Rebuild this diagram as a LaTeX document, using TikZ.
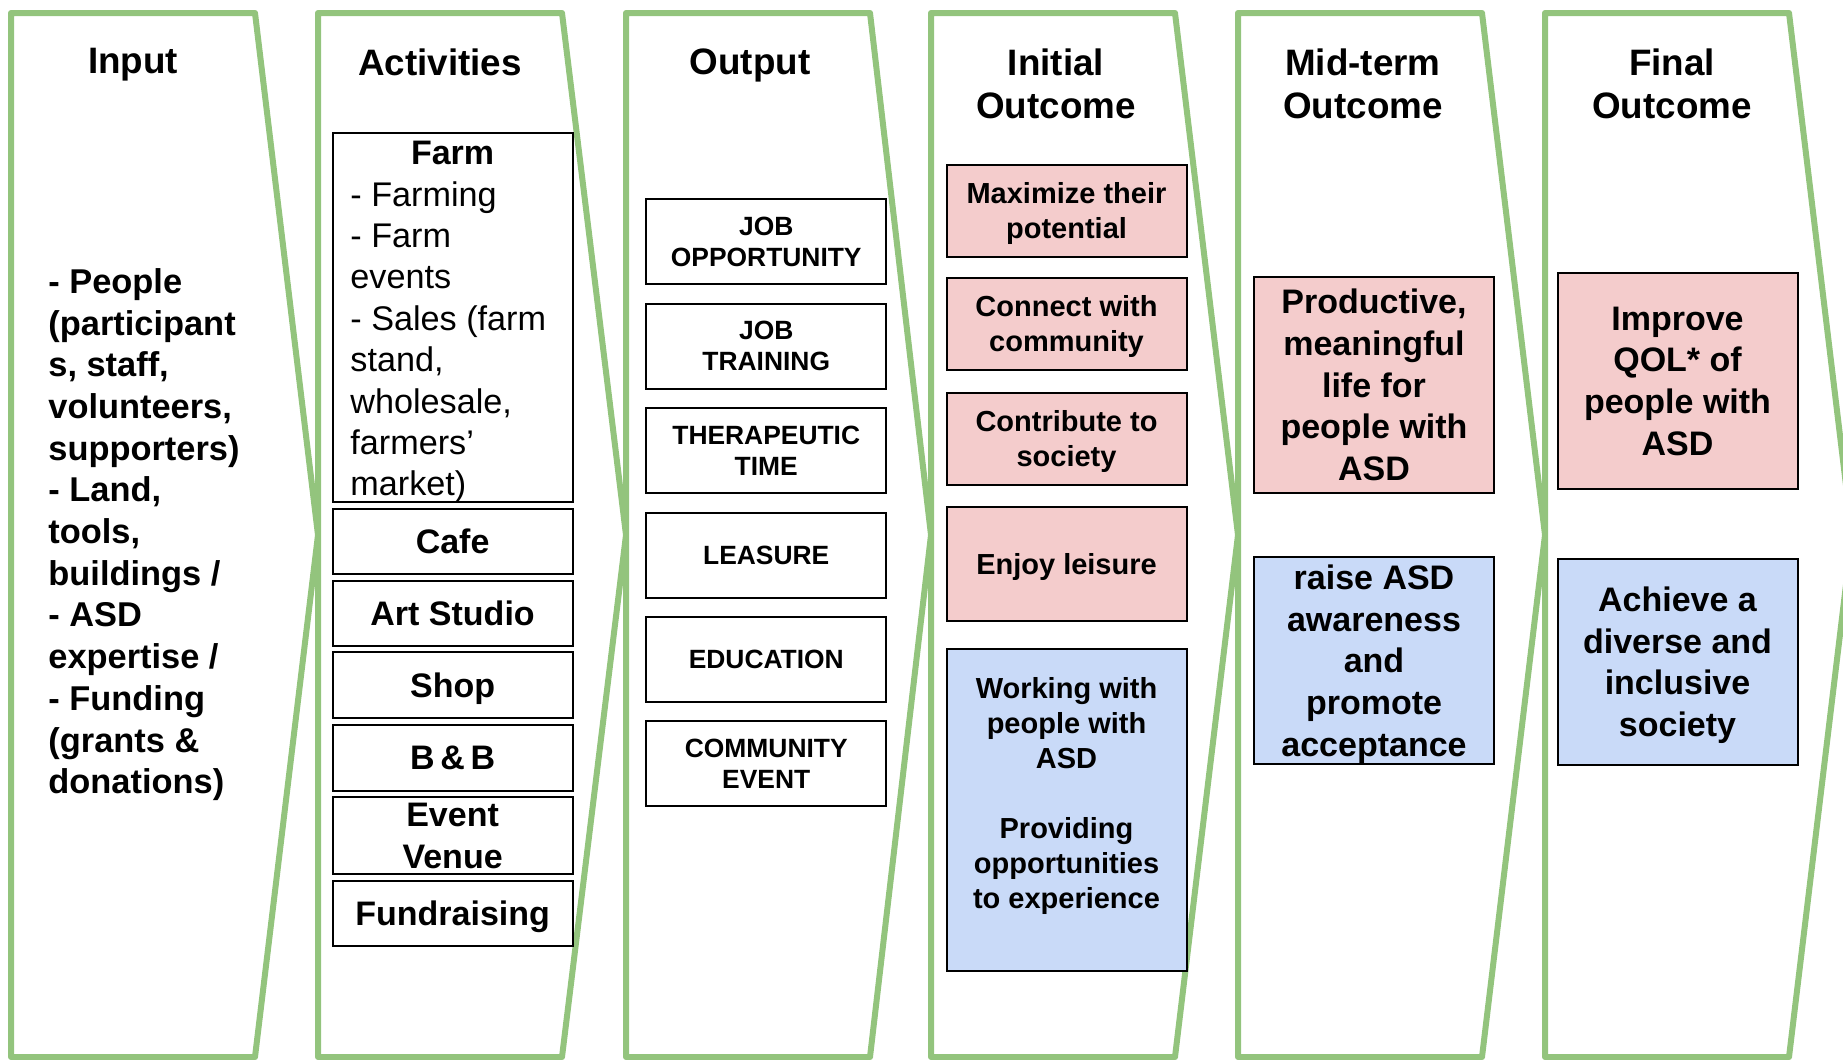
\documentclass[tikz,border=0pt]{standalone}
\usepackage{fontspec}
\setmainfont{Liberation Sans}
\usetikzlibrary{positioning}

\definecolor{stagegreen}{HTML}{93C47D}
\definecolor{goalpink}{HTML}{F4CCCC}
\definecolor{goalblue}{HTML}{C9DAF8}

\begin{document}
\begin{tikzpicture}[x=0.5pt, y=-0.5pt,
    stage/.style={draw=stagegreen, line width=3pt, line join=round},
    heading/.style={font=\fontsize{18.4}{21.5}\selectfont\bfseries, align=center, anchor=north, inner sep=0pt},
    bodytext/.style={font=\fontsize{17.2}{20.85}\selectfont\bfseries, align=left, anchor=north west, inner sep=0pt},
    actbox/.style={draw, line width=1pt, minimum width=120pt, inner sep=0pt, align=center, font=\fontsize{17}{21}\selectfont\bfseries},
    outbox/.style={draw, line width=1pt, minimum width=120pt, minimum height=42.5pt, inner sep=0pt, align=center, font=\fontsize{13.2}{15.5}\selectfont\bfseries},
    initbox/.style={draw, line width=1pt, minimum width=120pt, inner sep=0pt, align=center, text depth=0pt, font=\fontsize{14.5}{17.5}\selectfont\bfseries},
    goalbox/.style={draw, line width=1pt, minimum width=120pt, inner sep=0pt, align=center, text depth=0pt, font=\fontsize{17}{20.85}\selectfont\bfseries}]
    \useasboundingbox (0,0) rectangle (1843,1060);
    \clip (0,0) rectangle (1843,1060);

    % stages
    \draw[stage] (11,13) -- (255,13) -- (318,535) -- (255,1057) -- (11,1057) -- cycle;
    \draw[stage] (318,13) -- (562,13) -- (626,535) -- (562,1057) -- (318,1057) -- cycle;
    \draw[stage] (626,13) -- (870,13) -- (931,535) -- (870,1057) -- (626,1057) -- cycle;
    \draw[stage] (931,13) -- (1175,13) -- (1238,535) -- (1175,1057) -- (931,1057) -- cycle;
    \draw[stage] (1238,13) -- (1482,13) -- (1545,535) -- (1482,1057) -- (1238,1057) -- cycle;
    \draw[stage] (1545,13) -- (1789,13) -- (1852,535) -- (1789,1057) -- (1545,1057) -- cycle;

    % headings
    \node[heading] at (133,48) (inhead) {Input};
    \node[heading] at (440,48) (acthead) {Activities};
    \node[heading] at (750,48) (outhead) {Output};
    \node[heading] at (1056,48) (inithead) {Initial\\Outcome};
    \node[heading] at (1363,48) (midhead) {Mid-term\\Outcome};
    \node[heading] at (1672,48) (finhead) {Final\\Outcome};

    % input
    \node[bodytext] at (48,268) (inputs) {- People\\(participant\\s, staff,\\volunteers,\\supporters)\\- Land,\\tools,\\buildings /\\- ASD\\expertise /\\- Funding\\(grants \&\\donations)};

    % activities
    \node[actbox, minimum height=184.5pt] at (452.6,317.5) (farm) {};
    \node[heading, font=\fontsize{17}{21}\selectfont\bfseries] at ([yshift=-4.3pt]farm.north) (farmhead) {Farm};
    \node[bodytext, font=\fontsize{17.1}{20.7}\selectfont] at ([xshift=9.2pt, yshift=-24.5pt]farm.north west) (farmlist) {- Farming\\- Farm\\events\\- Sales (farm\\stand,\\wholesale,\\farmers’\\market)};
    \node[actbox, minimum height=32.7pt, below=2.3pt of farm] (cafe) {Cafe};
    \node[actbox, minimum height=32.5pt, below=2.3pt of cafe] (artstudio) {Art Studio};
    \node[actbox, minimum height=33pt, text depth=0pt, below=2.3pt of artstudio] (shop) {Shop};
    \node[actbox, minimum height=33pt, below=2.3pt of shop] (bnb) {B\,\&\,B};
    \node[actbox, minimum height=38.5pt, below=2.3pt of bnb] (venue) {Event\\Venue};
    \node[actbox, minimum height=32.5pt, text depth=0pt, below=2.3pt of venue] (fundraise) {Fundraising};

    % outputs
    \node[outbox] at (766.25,241.85) (jobopp) {JOB\\OPPORTUNITY};
    \node[outbox, below=8.7pt of jobopp] (jobtrain) {JOB\\TRAINING};
    \node[outbox, below=8.7pt of jobtrain] (therapy) {THERAPEUTIC\\TIME};
    \node[outbox, below=8.7pt of therapy] (leasure) {LEASURE};
    \node[outbox, below=8.7pt of leasure] (educ) {EDUCATION};
    \node[outbox, below=8.7pt of educ] (commev) {COMMUNITY\\EVENT};

    % initial outcome
    \node[initbox, fill=goalpink, minimum height=45.75pt] at (1066.5,210.75) (maxpot) {Maximize their\\potential};
    \node[initbox, fill=goalpink, minimum height=45.75pt] at (1066.5,323.75) (connect) {Connect with\\community};
    \node[initbox, fill=goalpink, minimum height=45.75pt] at (1066.5,438.75) (contrib) {Contribute to\\society};
    \node[initbox, fill=goalpink, minimum height=57pt] at (1066.5,564) (leisure) {Enjoy leisure};
    \node[initbox, fill=goalblue, minimum height=161pt] at (1066.5,810) (working) {Working with\\people with\\ASD\\[17.5pt]Providing\\opportunities\\to experience\\ \mbox{}};

    % mid-term outcome
    \node[goalbox, fill=goalpink, minimum height=108.25pt] at (1374,384.75) (meaning) {Productive,\\meaningful\\life for\\people with\\ASD};
    \node[goalbox, fill=goalblue, minimum height=103.5pt] at (1374,660.5) (aware) {raise ASD\\awareness\\and\\promote\\acceptance};

    % final outcome
    \node[goalbox, fill=goalpink, minimum height=108pt] at (1677.5,381) (qol) {Improve\\QOL* of\\people with\\ASD};
    \node[goalbox, fill=goalblue, minimum height=103.25pt] at (1677.5,661.75) (inclusive) {Achieve a\\diverse and\\inclusive\\society};
\end{tikzpicture}
\end{document}
